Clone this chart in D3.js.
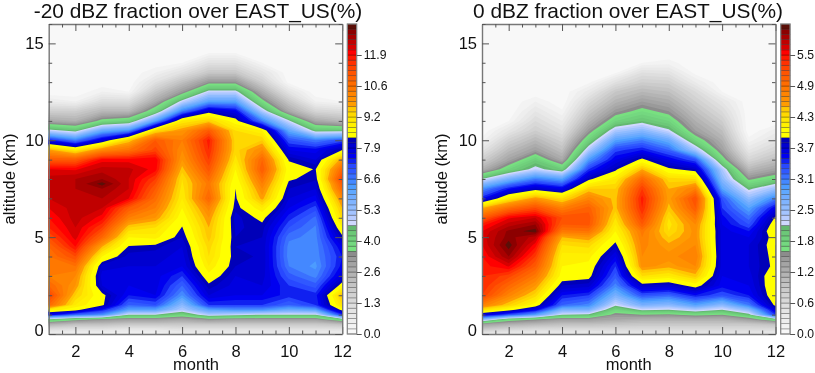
<!DOCTYPE html>
<html><head><meta charset="utf-8">
<style>html,body{margin:0;padding:0;background:#fff}svg{display:block;filter:blur(0.35px)}text{font-family:"Liberation Sans",Arial,sans-serif;fill:#111}</style>
<script src="https://cdn.jsdelivr.net/npm/d3@7/dist/d3.min.js"></script>
</head><body><svg id="c" width="815" height="373"></svg>
<script>
// Values read in colour-level units (one colour-bar band = 1), one profile per month, bottom to top.
const altitudesA=[0,.25,.5,.75,1,1.25,1.5,2,2.5,3,3.5,4,4.5,5,5.5,6,6.5,7,7.5,7.75,8,8.5,9,9.5,10,10.5,11,11.5,12,12.5,13,13.5,14,14.5,15,16];
const altitudesB=[0,.25,.5,.75,1,1.25,1.5,2,2.5,3,3.5,4,4.6,5,5.3,5.65,6,6.5,7,7.5,8,8.5,9,9.5,10,10.5,11,11.5,12,12.5,13,13.5,14,14.5,15,16];
const monthsList=[1,2,3,4,5,6,7,8,9,10,11,12];

const a1=[2,6,12,20,35,41,49,52,49,47,47,48,49,51,53,54,55,56,56.5,56.5,56.5,55,50,44.5,34,22,13,8,3,0,0,0,0,0,0,0];
const a2=[2,5,10,17,31,39,41,43,45,46,48,51,54,55.5,56,56.5,56.5,56.5,57,57,57,54.8,50,41,30,20,12,8,2,0,0,0,0,0,0,0];
const a3=[2,5,10,15,29,34,38.5,38.6,36,35.5,36.5,40,44,49,52,54.5,56,57,58,59.5,58,56.5,54.5,46,36,27,17,11,6,2,0,0,0,0,0,0];
const a4=[2,4,9,14,21,28,31,34,35,35,36,36.5,37.8,40,43,47,50,55,56,56,56,56.3,54.5,48,43,29,18.5,11,6,1,0,0,0,0,0,0];
const a5=[2,4,9,14,21,28,32,35,35.5,35.5,36,36.5,37.3,40.5,42,45,47,48.5,50,51,52,54.5,54.8,51.5,50,42,28,18.5,13,9,5,2,0,0,0,0];
const a6=[3,5,9,13,18,23,25,29,31,33,35,35.5,36,37,37.9,39,40,41,41.5,41.8,42,43.5,45,46,47,45,41,30,22,14.5,10,5,1,0,0,0];
const a7=[3,5,9,15,23,28,33,36,37.6,39.5,41,42,42.5,43.5,44,45,46.5,49.2,48,47.5,48.5,50.5,52,53,53.5,50,43,37,28,22,15,9,5,1,0,0];
const a8=[3,5,9,14,22,29,33,35,35.5,36,37,37.2,37,37,36.8,36.5,37.3,37.7,38,38.5,39,40,41.5,42.5,42.5,42,39,35,28,22,15,9,5,1,0,0];
const a9=[3,5,9,14,21,29,33,35,36,36.5,36.8,36.9,36.8,37,37.4,38.6,41,44.5,46,47,48,50,49,46,43,40,30,23,17,12.5,8,4.5,1,0,0,0];
const a10=[3,5,9,14,21,27,31,33.5,33,31.5,30,29.5,29.6,30.3,32,33.5,35,36,37,37.6,38.3,39,37.8,35,32,27.5,21.5,13,9,4.5,0.5,0,0,0,0,0];
const a11=[3,5,9,14,21,28,33,33.5,31.5,29.6,28.7,29.3,29.4,29.6,29.8,30.7,32.5,34.5,36,36.6,37.2,37.9,36,34.5,30,20,13,7,2,0,0,0,0,0,0,0];
const a12=[2,5,10,19,33,39,42,44,39,36,34.5,34,35,37.5,40,42.5,44,46,49,50,52,49,45,38,32,20,11,6,1,0,0,0,0,0,0,0];

const b1=[3,9,14,25,36,42,47,52,53,53,53.5,54,55,55.5,55,53.5,50,44,34,29,21,12,8,4.5,1.5,0,0,0,0,0,0,0,0,0,0,0];
const b2=[3,7,12,18,32,39,43,46.5,49,51.5,55.1,58,59.6,58.5,58.3,56.5,54.8,48.5,41,34,26,18,13.5,10.5,7.5,4,1,0,0,0,0,0,0,0,0,0];
const b3=[3,6,11,16,28,35,39.3,42.5,45,47.5,50,52,54.5,56.5,59.6,58,56,51,45,37,30,22,18.8,14,11,8,6,4,2,0,0,0,0,0,0,0];
const b4=[3,6,10,14,21,26,31,34,37,39.2,40,40.5,42,44,47.5,50,51,47,42,35,28,19,13,10,7.5,5,3,1.2,0,0,0,0,0,0,0,0];
const b5=[3,6,10,14,20.5,26,29.5,33,36.5,38.7,39.5,40.5,42.5,45,48,50.3,50.6,49.5,46.5,43,37.5,33,28.5,23,18.5,14.5,11.5,9,6.5,3.5,0.7,0,0,0,0,0];
const b6=[4,6,9.5,13,15,18,21.5,26,29.5,31.5,33,35,37.5,39,40,41,42,43.5,43.5,43,41,37.5,35,32.5,28,23,18,14.5,11.5,9,5,0.7,0,0,0,0];
const b7=[4,6,9,12,16,21.5,26,32,37,42,45.5,46,46.5,47,47.5,50,51.5,53,53.5,52,49,44,38.5,34,30,25,20,17,14,11,8,5,1,0,0,0];
const b8=[4,6,9,12,15.5,21,25,31,36.5,41,44.5,45.5,44.3,43,42,41.5,42,43.5,44.5,44,42.5,38.5,35,31,27,21.5,18,15,12.5,10,7.5,4.5,1.5,0,0,0];
const b9=[4,6,9,12,17,23,28,34,39,43.5,46,47,46,45.5,45.5,46,47.5,50,51,47,42,37,32,23.5,18,14,12,10,8,6,3,0.5,0,0,0,0];
const b10=[4,6,9,12,16,21,25,32,34.5,35,35.5,35.5,35.5,35.5,35.5,35,34.5,33,32,28,25,23,17.5,14,12,10,8,6,4,1,0,0,0,0,0,0];
const b11=[4,6,9,14,20,25,30,34,35,35.5,36,36,36,35,34,32,30.5,28,24.5,20.5,15.5,11,7,4,1.5,0,0,0,0,0,0,0,0,0,0,0];
const b12=[3,6,10,19,33,36,38.6,39.8,40,39.8,38.5,38.7,39,39,40,39.5,38.3,35,30,24,18,13.5,10,7,4.5,2.5,0,0,0,0,0,0,0,0,0,0];

const profilesA=[a1,a2,a3,a4,a5,a6,a7,a8,a9,a10,a11,a12];
const profilesB=[b1,b2,b3,b4,b5,b6,b7,b8,b9,b10,b11,b12];
const stepA=0.22, stepB=0.1025;   // percent per colour band
const cbTicksA=[0,1.32,2.64,3.96,5.28,6.6,7.92,9.24,10.56,11.88];
const cbTicksB=[0,0.615,1.23,1.845,2.46,3.075,3.69,4.305,4.92,5.535];
const xTicks=[2,4,6,8,10,12], xMinor=[1.5,2.5,3,3.5,4.5,5,5.5,6.5,7,7.5,8.5,9,9.5,10.5,11,11.5];
const yTicks=[0,5,10,15], yMinor=[1,2,3,4,6,7,8,9,11,12,13,14,16];
const palette=["#f8f8f8","#f3f3f3","#eeeeee","#e9e9e9","#e4e4e4","#dedede","#d8d8d8","#d2d2d2","#cbcbcb","#c4c4c4","#bcbcbc","#b4b4b4","#acacac","#a4a4a4","#9a9a9a","#8c8c8c",
"#78e080","#74d880","#70d07c","#6cc878","#64b870",
"#d0d8ff","#b8ccff","#a4c4ff","#90bcff","#80b4ff","#70acff","#60a8ff","#4c9cff","#4488ff","#3a70ff","#3058ff","#2848ff","#1020f0","#0000f0","#0000e0","#0000d0","#0000b8",
"#ffff00","#ffff00","#fff000","#ffe800","#ffd800","#ffc800","#ff9c00","#ff9000","#ff8400","#ff7800","#ff6c00","#ff6000","#ff5400","#ff4400","#ff3000","#ff1800","#ff0000","#d80000","#c00000","#a80000","#8c0000","#5a0f08"];

const svg=d3.select("#c");
const plotTop=24,plotBottom=334;
const defs=svg.append("defs");

function panel(o){
  const n=monthsList.length, m=o.alts.length, step=o.step;
  const x=d3.scaleLinear().domain([1,12]).range([o.x0,o.x0+293.5]);
  const y=d3.scaleLinear().domain([0,16]).range([plotBottom,plotTop]);
  const altAt=d3.scaleLinear().domain(d3.range(m)).range(o.alts);
  const flat=[];
  for(let j=0;j<m;j++) for(let i=0;i<n;i++) flat.push(o.profiles[i][j]*step);
  const thresholds=palette.map((_,i)=>i*step).slice(1);
  const conts=d3.contours().size([n,m]).thresholds(thresholds)(flat);
  const proj=d3.geoTransform({point(px,py){this.stream.point(x(1+px-.5),y(altAt(py-.5)));}});
  const path=d3.geoPath(proj);
  defs.append("clipPath").attr("id",o.id).append("rect").attr("x",x(1)).attr("y",plotTop).attr("width",x(12)-x(1)).attr("height",plotBottom-plotTop);
  const g=svg.append("g");
  const f=g.append("g").attr("clip-path",`url(#${o.id})`);
  f.append("rect").attr("x",x(1)).attr("y",plotTop).attr("width",x(12)-x(1)).attr("height",plotBottom-plotTop).attr("fill",palette[0]);
  f.selectAll("path").data(conts).join("path").attr("d",path).attr("fill",(d,i)=>palette[i+1]);

  // axes, ticks pointing inward on all four sides
  const axisCol="#555";
  function ax(gen,tx,ty){const s=g.append("g").attr("transform",`translate(${tx},${ty})`).call(gen);s.selectAll("path").attr("stroke","#777").attr("stroke-width",1.4);s.selectAll("line").attr("stroke",axisCol);s.selectAll("text").attr("font-size",16.5).attr("font-family",null);return s;}
  ax(d3.axisBottom(x).tickValues(xTicks).tickFormat(d3.format("d")).tickSizeInner(-7).tickSizeOuter(0).tickPadding(11),0,plotBottom);
  ax(d3.axisBottom(x).tickValues(xMinor).tickFormat("").tickSize(-3.5),0,plotBottom).select("path").remove();
  ax(d3.axisTop(x).tickValues(xTicks).tickFormat("").tickSizeInner(-7).tickSizeOuter(0),0,plotTop);
  ax(d3.axisTop(x).tickValues(xMinor).tickFormat("").tickSize(-3.5),0,plotTop).select("path").remove();
  const yl=ax(d3.axisLeft(y).tickValues(yTicks).tickFormat(d3.format("d")).tickSizeInner(-7).tickSizeOuter(0).tickPadding(5),x(1),0);
  yl.selectAll(".tick text").filter(d=>d===0).attr("dy","0.07em");
  ax(d3.axisLeft(y).tickValues(yMinor).tickFormat("").tickSize(-3.5),x(1),0).select("path").remove();
  ax(d3.axisRight(y).tickValues(yTicks).tickFormat("").tickSizeInner(-7).tickSizeOuter(0),x(12),0);
  ax(d3.axisRight(y).tickValues(yMinor).tickFormat("").tickSize(-3.5),x(12),0).select("path").remove();

  g.append("text").attr("x",o.titleX).attr("y",18).attr("text-anchor","middle").attr("font-size",20.9).text(o.title);
  g.append("text").attr("x",o.monthX).attr("y",369.5).attr("text-anchor","middle").attr("font-size",16.5).text("month");
  g.append("text").attr("transform",`translate(${o.altX},179) rotate(-90)`).attr("text-anchor","middle").attr("font-size",16.5).text("altitude (km)");

  // colour bar
  const cbx=o.cbX, cbw=9.4;
  const cy=d3.scaleLinear().domain([0,60*step]).range([plotBottom,plotTop]);
  g.append("g").selectAll("rect").data(palette).join("rect")
    .attr("x",cbx).attr("width",cbw).attr("y",(d,i)=>cy((i+1)*step)).attr("height",(d,i)=>cy(i*step)-cy((i+1)*step))
    .attr("fill",d=>d).attr("stroke","#000").attr("stroke-opacity",.38).attr("stroke-width",.7);
  g.append("rect").attr("x",cbx).attr("y",plotTop).attr("width",cbw).attr("height",plotBottom-plotTop).attr("fill","none").attr("stroke","#888").attr("stroke-width",1.2);
  const cb=g.append("g").attr("transform",`translate(${cbx+cbw},0)`).call(d3.axisRight(cy).tickValues(o.cbTicks).tickFormat(d3.format(".1f")).tickSizeInner(5).tickSizeOuter(0).tickPadding(2));
  cb.select("path").remove();
  cb.selectAll("line").attr("stroke",axisCol);
  cb.selectAll("text").attr("font-size",12.2).attr("font-family",null);
}

panel({id:"pa",profiles:profilesA,alts:altitudesA,step:stepA,x0:48.7,title:"-20 dBZ fraction over EAST_US(%)",titleX:198,monthX:196,altX:15,cbX:347.3,cbTicks:cbTicksA});
panel({id:"pb",profiles:profilesB,alts:altitudesB,step:stepB,x0:482,title:"0 dBZ fraction over EAST_US(%)",titleX:628,monthX:628.7,altX:447,cbX:780.7,cbTicks:cbTicksB});
</script></body></html>
